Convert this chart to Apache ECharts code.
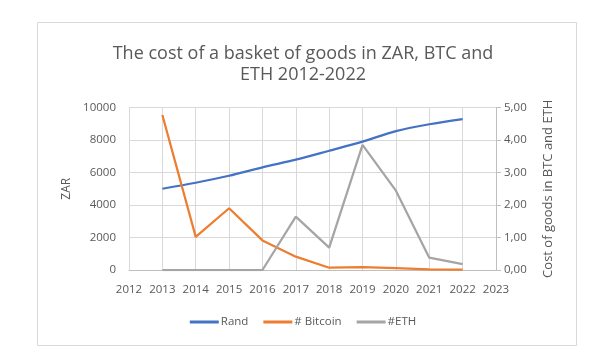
<!DOCTYPE html>
<html><head><meta charset="utf-8">
<script src="https://cdn.jsdelivr.net/npm/echarts@6/dist/echarts.min.js"></script>
<style>html,body{margin:0;padding:0;background:#fff}#c{width:606px;height:355px}</style>
</head><body><div id="c"></div>
<script>
const years = [2013, 2014, 2015, 2016, 2017, 2018, 2019, 2020, 2021, 2022];
const rand = [5000, 5370, 5800, 6320, 6790, 7340, 7900, 8550, 8970, 9290];
const bitcoin = [4.77, 1.02, 1.90, 0.91, 0.41, 0.07, 0.09, 0.06, 0.02, 0.01];
const eth = [0, 0, 0, 0, 1.64, 0.69, 3.85, 2.44, 0.38, 0.18];
const titleText = 'The cost of a basket of goods in ZAR, BTC and\nETH 2012-2022';

const pairs = v => years.map((y, i) => [y, v[i]]);
const font = 'Open Sans, Liberation Sans, sans-serif';
const txt = '#595959';
const chart = echarts.init(document.getElementById('c'));
chart.setOption({
  animation: false,
  graphic: [{type: 'rect', shape: {x: 37.5, y: 22.5, width: 539, height: 323}, style: {fill: 'none', stroke: '#d9d9d9', lineWidth: 1}, z: -1}],
  title: {text: titleText, left: 'center', top: 38, textStyle: {fontFamily: font, fontSize: 18, fontWeight: 'normal', color: txt, lineHeight: 21}},
  legend: {bottom: 22, left: 'center', itemWidth: 29, itemHeight: 3, itemGap: 15, icon: 'rect',
    textStyle: {fontFamily: font, fontSize: 11.5, color: txt, padding: [0, 0, 0, -3]}},
  grid: {left: 129, right: 110, top: 107.5, bottom: 85},
  xAxis: {type: 'value', min: 2012, max: 2023, interval: 1,
    axisLine: {show: true, lineStyle: {color: '#bfbfbf'}}, axisTick: {show: false},
    splitLine: {show: true, lineStyle: {color: '#d9d9d9'}},
    axisLabel: {fontFamily: font, fontSize: 11.5, color: txt, margin: 14, formatter: v => String(v)}},
  yAxis: [
    {type: 'value', min: 0, max: 10000, interval: 2000, name: 'ZAR', nameLocation: 'middle', nameGap: 52, nameRotate: 90,
      nameTextStyle: {fontFamily: font, fontSize: 12, color: txt},
      axisLine: {show: false}, axisTick: {show: false},
      splitLine: {show: true, lineStyle: {color: '#d9d9d9'}},
      axisLabel: {fontFamily: font, fontSize: 11.5, color: txt, margin: 13, formatter: v => String(v)}},
    {type: 'value', min: 0, max: 5, interval: 1, position: 'right', name: 'Cost of goods in BTC and ETH', nameLocation: 'middle', nameGap: 46, nameRotate: 90,
      nameTextStyle: {fontFamily: font, fontSize: 13, color: txt},
      axisLine: {show: true, lineStyle: {color: '#bfbfbf'}}, axisTick: {show: true, length: 5, lineStyle: {color: '#bfbfbf'}},
      splitLine: {show: false},
      axisLabel: {fontFamily: font, fontSize: 11.5, color: txt, margin: 8, formatter: v => v.toFixed(2).replace('.', ',')}}
  ],
  series: [
    {name: 'Rand', type: 'line', yAxisIndex: 0, data: pairs(rand), showSymbol: false, smooth: 0.3, lineStyle: {color: '#4472C4', width: 2.25}, itemStyle: {color: '#4472C4'}},
    {name: '# Bitcoin', type: 'line', yAxisIndex: 1, data: pairs(bitcoin), showSymbol: false, lineStyle: {color: '#ED7D31', width: 2.25}, itemStyle: {color: '#ED7D31'}},
    {name: '#ETH', type: 'line', yAxisIndex: 1, data: pairs(eth), showSymbol: false, lineStyle: {color: '#A5A5A5', width: 2.25}, itemStyle: {color: '#A5A5A5'}}
  ]
});
</script></body></html>
